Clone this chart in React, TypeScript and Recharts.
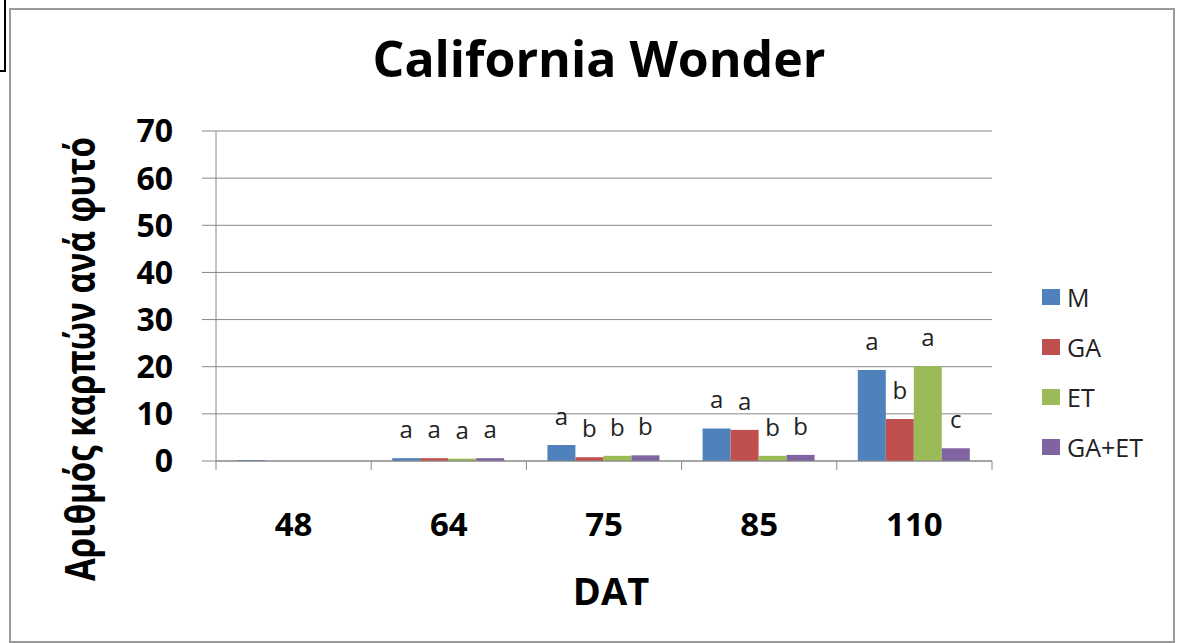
import React from 'react';
import { BarChart, Bar, XAxis, YAxis, CartesianGrid, LabelList, Legend } from 'recharts';

const categories = ['48', '64', '75', '85', '110'];
const seriesNames = ['M', 'GA', 'ET', 'GA+ET'];
const valuesM = [0.2, 0.6, 3.4, 6.9, 19.3];
const valuesGA = [0.0, 0.6, 0.8, 6.6, 8.9];
const valuesET = [0.0, 0.5, 1.1, 1.1, 20.1];
const valuesGAET = [0.0, 0.6, 1.2, 1.3, 2.7];
const lettersM = ['', 'a', 'a', 'a', 'a'];
const lettersGA = ['', 'a', 'b', 'a', 'b'];
const lettersET = ['', 'a', 'b', 'b', 'a'];
const lettersGAET = ['', 'a', 'b', 'b', 'c'];
const colors = ['#4F81BD', '#C0504D', '#9BBB59', '#8064A2'];
const yTicks = [0, 10, 20, 30, 40, 50, 60, 70];
const title = 'California Wonder';
const yLabel = 'Αριθμός καρπών ανά φυτό';
const xLabel = 'DAT';

const data = categories.map((c, i) => ({
  cat: c,
  M: valuesM[i],
  GA: valuesGA[i],
  ET: valuesET[i],
  GAET: valuesGAET[i],
  lM: lettersM[i],
  lGA: lettersGA[i],
  lET: lettersET[i],
  lGAET: lettersGAET[i],
}));

const seriesKeys = ['M', 'GA', 'ET', 'GAET'];
const labelKeys = ['lM', 'lGA', 'lET', 'lGAET'];

const TICK_MARGIN = 52;

const CatTick = (props: any) => {
  const { x, y, payload, index } = props;
  const axisWidth = typeof props.width === 'number' ? props.width : 775.5;
  const bw = axisWidth / categories.length;
  const axisY = y - TICK_MARGIN;
  return (
    <g>
      <line x1={x - bw / 2} x2={x - bw / 2} y1={axisY} y2={axisY + 9} stroke="#888" />
      {index === categories.length - 1 && (
        <line x1={x + bw / 2} x2={x + bw / 2} y1={axisY} y2={axisY + 9} stroke="#888" />
      )}
      <text x={x} y={y} dy="0.71em" textAnchor="middle" fill="#000" fontSize={33} fontWeight={700}>
        {payload.value}
      </text>
    </g>
  );
};

const renderLegend = () => (
  <div style={{ fontFamily: '"Open Sans", sans-serif' }}>
    {seriesNames.map((n, i) => (
      <div key={n} style={{ height: 50, display: 'flex', alignItems: 'center' }}>
        <div style={{ width: 18, height: 16, background: colors[i], marginRight: 7 }} />
        <span style={{ fontSize: 25, color: '#222' }}>{n}</span>
      </div>
    ))}
  </div>
);

export default function App() {
  return (
    <div
      style={{
        position: 'absolute',
        left: 0,
        top: 0,
        width: 1177,
        height: 643,
        background: '#fff',
        overflow: 'hidden',
        fontFamily: '"Open Sans", sans-serif',
      }}
    >
      <div
        style={{
          position: 'absolute',
          left: 9,
          top: 8,
          width: 1162,
          height: 631,
          border: '2px solid #9a9a9a',
        }}
      />
      <div
        style={{
          position: 'absolute',
          left: -100,
          top: -10,
          width: 102,
          height: 78,
          border: '2px solid #000',
        }}
      />
      <div style={{ position: 'absolute', left: 0, top: 0 }}>
        <BarChart
          width={1177}
          height={643}
          data={data}
          margin={{ top: 131, right: 185, bottom: 122, left: 116 }}
          barCategoryGap={21}
          barGap={0}
        >
          <CartesianGrid vertical={false} stroke="#888" />
          <XAxis
            dataKey="cat"
            height={60}
            interval={0}
            tickLine={false}
            tickSize={0}
            tickMargin={TICK_MARGIN}
            axisLine={{ stroke: '#888' }}
            tick={<CatTick />}
            label={{ value: xLabel, position: 'bottom', offset: 57, dx: 7, fill: '#000', fontSize: 38, fontWeight: 700 }}
          />
          <YAxis
            domain={[0, 70]}
            ticks={yTicks}
            interval={0}
            width={100}
            tickSize={14}
            tickMargin={29}
            axisLine={{ stroke: '#888' }}
            tickLine={{ stroke: '#888' }}
            tick={{ fill: '#000', fontSize: 32, fontWeight: 700 }}
          />
          {seriesKeys.map((k, i) => (
            <Bar key={k} dataKey={k} name={seriesNames[i]} fill={colors[i]} isAnimationActive={false}>
              <LabelList dataKey={labelKeys[i]} position="top" offset={20} fill="#222" fontSize={24} />
            </Bar>
          ))}
          <Legend
            layout="vertical"
            align="center"
            verticalAlign="middle"
            wrapperStyle={{ left: 1042, top: 272, width: 130 }}
            content={renderLegend}
          />
        </BarChart>
      </div>
      <svg
        width={1177}
        height={643}
        style={{ position: 'absolute', left: 0, top: 0, pointerEvents: 'none' }}
      >
        <text x={599} y={77} textAnchor="middle" fontSize={50} fontWeight={700} fill="#000" fontFamily='"Open Sans", sans-serif'>
          {title}
        </text>
        <text
          transform="translate(95,359) scale(1.25,1) rotate(-90)"
          textAnchor="middle"
          fontSize={33}
          fontWeight={700}
          fill="#000"
          fontFamily='"Open Sans", sans-serif'
        >
          {yLabel}
        </text>
      </svg>
    </div>
  );
}
